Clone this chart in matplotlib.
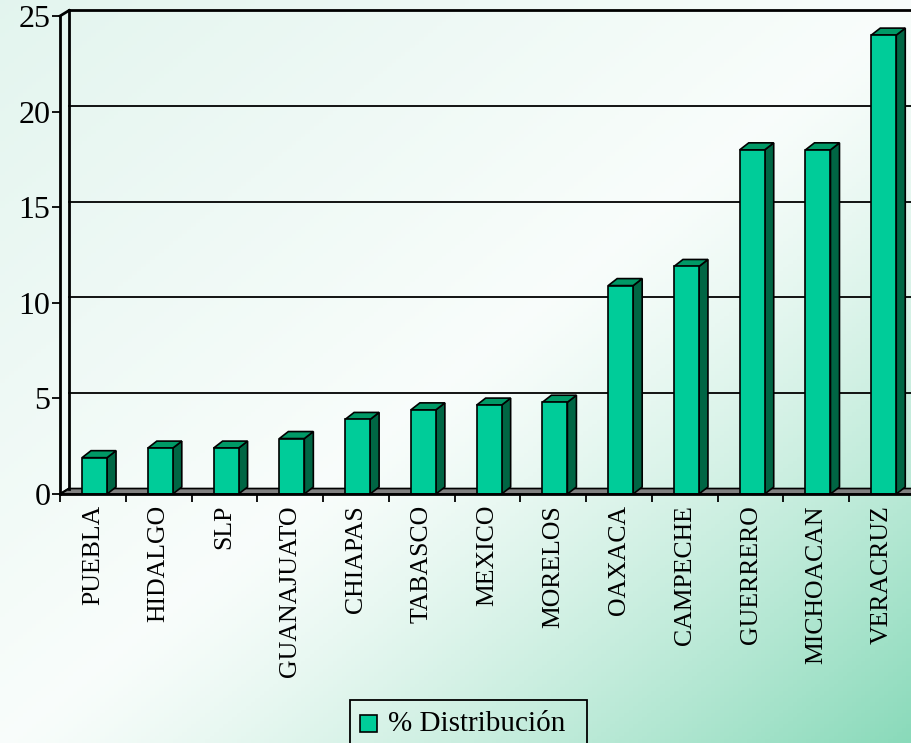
import numpy as np
import matplotlib.pyplot as plt
from matplotlib.patches import Polygon, Rectangle

estados = ["PUEBLA", "HIDALGO", "SLP", "GUANAJUATO", "CHIAPAS", "TABASCO", "MEXICO",
           "MORELOS", "OAXACA", "CAMPECHE", "GUERRERO", "MICHOACAN", "VERACRUZ"]
distribucion = [1.9, 2.4, 2.4, 2.9, 3.9, 4.4, 4.65, 4.8, 10.9, 11.9, 18.0, 18.0, 24.0]
yticks = [0, 5, 10, 15, 20, 25]

W, H = 911, 743
fig = plt.figure(figsize=(W / 100, H / 100), dpi=100)
plt.rcParams['font.family'] = ['Liberation Serif', 'DejaVu Serif']

# fondo degradado
bg = fig.add_axes([0, 0, 1, 1], zorder=-10)
yy, xx = np.mgrid[0:1:200j, 0:1:200j]
s = (xx + yy) / 2
c0 = np.array([0.89, 0.96, 0.935])
c1 = np.array([0.975, 0.992, 0.985])
c2 = np.array([0.54, 0.855, 0.73])
t1 = np.clip(s / 0.5, 0, 1)[..., None]
t2 = (np.clip((s - 0.5) / 0.5, 0, 1) ** 1.3)[..., None]
img = np.where(s[..., None] < 0.5, c0 + (c1 - c0) * t1, c1 + (c2 - c1) * t2)
bg.imshow(img, extent=[0, 1, 0, 1], aspect='auto', origin='upper')
bg.axis('off')

ax = fig.add_axes([60 / W, 249 / H, 855 / W, 478 / H])
ax.patch.set_visible(False)
n = len(estados)
ax.set_xlim(0, n)
ax.set_ylim(0, 25)

px_x = n / 855.0
px_y = 25 / 478.0
dx = 9 * px_x
dyw = 5.5 * px_y
dyb = 7 * px_y

# paredes y piso
ax.add_patch(Polygon([(0, 0), (n + 1, 0), (n + 1 + dx, dyw), (dx, dyw)],
                     closed=True, fc='#808080', ec='black', lw=1.2, clip_on=False, zorder=1))
ax.plot([dx, dx], [dyw, 25 + dyw], color='black', lw=2, clip_on=False, zorder=1)
ax.plot([0, dx], [25, 25 + dyw], color='black', lw=2, clip_on=False, zorder=1)
ax.plot([0, dx], [0, dyw], color='black', lw=1.5, clip_on=False, zorder=2)
for v in yticks[1:]:
    ax.plot([dx, n + 1], [v + dyw, v + dyw], color='black', lw=1.3 if v < 25 else 2,
            clip_on=False, zorder=1)

# barras 3D
bw = 0.38
for i, v in enumerate(distribucion):
    x0 = i + 0.335
    ax.add_patch(Polygon([(x0 + bw, 0), (x0 + bw + dx, dyb), (x0 + bw + dx, v + dyb), (x0 + bw, v)],
                         closed=True, fc='#006644', ec='black', lw=1.2, zorder=3))
    ax.add_patch(Polygon([(x0, v), (x0 + dx, v + dyb), (x0 + bw + dx, v + dyb), (x0 + bw, v)],
                         closed=True, fc='#009966', ec='black', lw=1.2, zorder=3))
    ax.add_patch(Rectangle((x0, 0), bw, v, fc='#00cc99', ec='black', lw=1.2, zorder=4))

for side in ['top', 'right']:
    ax.spines[side].set_visible(False)
ax.spines['left'].set_linewidth(2)
ax.spines['bottom'].set_linewidth(2)
ax.spines['bottom'].set_zorder(5)

ax.set_yticks(yticks)
ax.set_yticklabels([str(v) for v in yticks], fontsize=23)
ax.tick_params(axis='y', direction='out', length=6, width=1.3, pad=1)

ax.set_xticks(np.arange(n) + 0.5)
ax.set_xticklabels(estados, rotation=90, fontsize=18.5)
ax.set_xticks(np.arange(n + 1), minor=True)
ax.tick_params(axis='x', which='major', length=0, pad=8)
ax.tick_params(axis='x', which='minor', direction='out', length=6, width=1.3)

# leyenda
fig.patches.append(Rectangle((350 / W, -0.01), 237 / W, (743 - 700) / H + 0.01,
                             transform=fig.transFigure, fill=False, ec='black', lw=1.3))
fig.patches.append(Rectangle((360 / W, (743 - 732) / H), 17 / W, 17 / H,
                             transform=fig.transFigure, fc='#00cc99', ec='black', lw=1.2))
fig.text(388 / W, (743 - 724) / H, "% Distribución", fontsize=21, va='center', ha='left')

fig.savefig("out.png", dpi=100)
